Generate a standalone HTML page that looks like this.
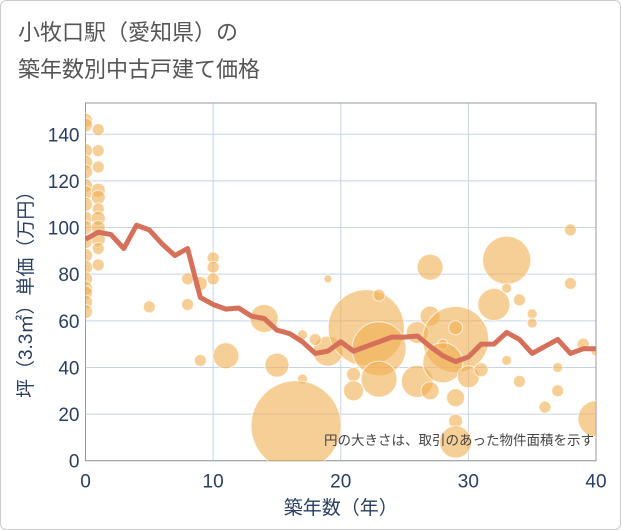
<!DOCTYPE html>
<html><head><meta charset="utf-8"><style>
body{margin:0;background:#fff;}
#card{position:absolute;left:0;top:0;width:619px;height:528px;border:1px solid #ccc;border-radius:6px;background:#fff;}
.t{font-family:"Liberation Sans","Noto Sans CJK JP",sans-serif;}
</style></head><body>
<div id="card">
<div class="t" style="position:absolute;left:17px;top:13px;font-size:22px;line-height:37px;color:#555;">小牧口駅（愛知県）の<br>築年数別中古戸建て価格</div>
</div>
<svg id="chart" width="621" height="530" style="position:absolute;left:0;top:0" class="t"></svg>
<script>
const lineX=[0,1,2,3,4,5,6,7,8,9,10,11,12,13,14,15,16,17,18,19,20,21,22,23,24,25,26,27,28,29,30,31,32,33,34,35,36,37,38,39,40];
const lineY=[95,98,97,91,101,99,93,88,91,70,67,65,65.5,62,61,56,54.5,51,46,47,51,47,49,51,53,53,53.5,49,45,42.5,44.5,50,50,55,52,46,49,52,46,48,48];
const bubX=[0,0,0,0,0,0,0,0,0,0,0,0,0,0,0,0,0,0,1,1,1,1,1,1,1,1,1,1,1,5,8,8,9,9,10,10,10,11,14,15,17,17,16.5,19,19,18,21,21,22,23,23,23,26,27,26,27,29,27,28,29,28,29,29,29,30,31,32,33,33,33,34,34,35,35,36,37,37,38,38,39,40,40];
const bubY=[146,144,133,128,124,118,115,110,104,100,94,88,83,78,74,72,68,64,142,133,126,116,113,108,104,100,95,91,84,66,78,67,43,76,87,83,78,45,61,41,54,35,15,78,47,52,37,30,57,48,35,71,55,62,34,30,52,83,50,57,42,27,17,8,36,39,67,86,43,74,69,34,63,59,23,40,30,99,76,50,47,18];
const bubR=[7,7,7,7,7,7,7,7,7,7,7,7,7,7,7,7,7,7,6,6,6,7,7,6,7,7,7,6,6,6,6,6,6,7,6,6,6,13,14,12,5,5,45,4,15,6,7,10,38,27,18,6,11,10,16,9,33,13,5,7,20,9,7,16,11,7,16,24,5,5,6,6,5,5,6,5,6,6,6,6,5,18];
const xTicks=[0,10,20,30,40];
const yTicks=[0,20,40,60,80,100,120,140];
const L=85.5,R=596,T=103,B=460.7;
const xs=v=>L+(v-0)/40*(R-L);
const ys=v=>B-v*(B-134.3)/140;
const svg=document.getElementById('chart');const NS='http://www.w3.org/2000/svg';
function mk(t,a){const e=document.createElementNS(NS,t);for(const k in a)e.setAttribute(k,a[k]);svg.appendChild(e);return e;}
const cp=mk('clipPath',{id:'cp'});const cr=document.createElementNS(NS,'rect');cr.setAttribute('x',L);cr.setAttribute('y',T);cr.setAttribute('width',R-L);cr.setAttribute('height',B-T);cp.appendChild(cr);
yTicks.forEach(v=>{const g=mk('line',{x1:L,x2:R,y1:ys(v),y2:ys(v),stroke:'#c8d4e6','stroke-width':1});


const t=mk('text',{x:L-6,y:ys(v)+7,'text-anchor':'end','font-size':19,fill:'#2a3f5f'});t.textContent=v;

});
xTicks.forEach(v=>{const g=mk('line',{x1:xs(v),x2:xs(v),y1:T,y2:B,stroke:'#c8d4e6','stroke-width':1});


const t=mk('text',{x:xs(v),y:B+27,'text-anchor':'middle','font-size':19,fill:'#2a3f5f'});t.textContent=v;

});
const fr=mk('rect',{x:L,y:T,width:R-L,height:B-T,fill:'none',stroke:'#999','stroke-width':1});


const bg=mk('g',{'clip-path':'url(#cp)'});
bubX.forEach((x,i)=>{const c=document.createElementNS(NS,'circle');c.setAttribute('cx',xs(x));c.setAttribute('cy',ys(bubY[i]));c.setAttribute('r',bubR[i]);c.setAttribute('fill','rgba(240,175,80,0.6)');c.setAttribute('stroke','rgba(255,255,255,0.7)');c.setAttribute('stroke-width','1');


bg.appendChild(c);});
const p=mk('polyline',{points:lineX.map((x,i)=>xs(x)+','+ys(lineY[i])).join(' '),fill:'none',stroke:'#d5705a','stroke-width':5,'stroke-linejoin':'round','clip-path':'url(#cp)'});


const n=mk('text',{x:R-2,y:445,'text-anchor':'end','font-size':13.5,fill:'#444'});n.textContent='円の大きさは、取引のあった物件面積を示す';


const xt=mk('text',{x:(L+R)/2,y:514,'text-anchor':'middle','font-size':19,fill:'#2a3f5f'});xt.textContent='築年数（年）';


const yt=mk('text',{x:0,y:0,'text-anchor':'middle','font-size':19,fill:'#2a3f5f',transform:'translate(32,'+((T+B)/2+8)+') rotate(-90)'});yt.textContent='坪（3.3㎡）単価（万円）';


</script>
</body></html>
